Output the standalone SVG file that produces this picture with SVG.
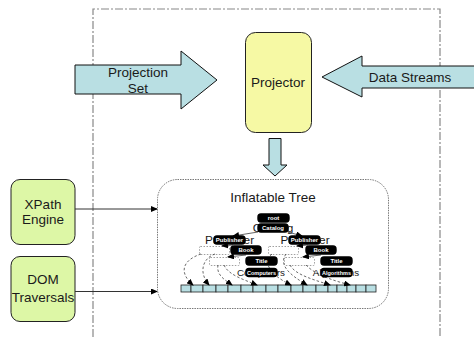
<svg xmlns="http://www.w3.org/2000/svg" width="474" height="337" viewBox="0 0 474 337">
<style>
text{font-family:"Liberation Sans",Arial,sans-serif;fill:#1a1a1a;text-anchor:middle}
.t{font-size:13.5px}
.blue{fill:#b9dfe3;stroke:#111;stroke-width:1}
.green{fill:#ddf7a6;stroke:#222;stroke-width:1}
.lab{fill:#000;stroke:#000;stroke-width:1.4}
.w{font-size:6px;font-weight:bold;fill:#fff}
.dr{fill:#fff;stroke:#888;stroke-width:.8;stroke-dasharray:1.500 1.500}
.c{fill:none;stroke:#222;stroke-width:.7}
.d{fill:none;stroke:#444;stroke-width:.8;stroke-dasharray:2.500 2}
.cell{fill:#b9dfe3;stroke:#222;stroke-width:.8}
</style>
<defs>
<marker id="a" markerWidth="7" markerHeight="6" refX="6" refY="3" orient="auto" markerUnits="userSpaceOnUse"><path d="M0,0L7,3L0,6Z" fill="#000"/></marker>
</defs>
<rect width="474" height="337" fill="#fff"/>
<path d="M93,337V9H440V337" fill="none" stroke="#888" stroke-width="1.200" stroke-dasharray="8 2 2 2"/>
<g id="projection-set"><path class="blue" d="M75,65H181V51L217,80L181,109V94H75Z"/><text class="t" x="138" y="77">Projection</text><text class="t" x="138" y="93">Set</text></g>
<g id="data-streams"><path class="blue" d="M474,66H362V56L322,77L362,97V88H474"/><text class="t" x="410" y="82">Data Streams</text></g>
<g id="projector"><rect x="245.500" y="32.500" width="66" height="100" rx="10" fill="#f6f9a4" stroke="#222"/><text class="t" x="278" y="87">Projector</text></g>
<g id="down-arrow"><path class="blue" d="M269,138.500H281V165H287L275,176L263,165H269Z"/></g>
<g id="xpath-engine"><rect class="green" x="11" y="179.500" width="64" height="65" rx="9"/><text class="t" x="43" y="209">XPath</text><text class="t" x="43" y="224">Engine</text></g>
<g id="dom-traversals"><rect class="green" x="11" y="256.500" width="64" height="65" rx="9"/><text class="t" x="43" y="284">DOM</text><text class="t" x="43" y="302">Traversals</text></g>
<g id="connectors">
<path d="M75,209H157" fill="none" stroke="#333" marker-end="url(#a)"/>
<path d="M75,291.500H157" fill="none" stroke="#333" marker-end="url(#a)"/>
</g>
<g id="inflatable-tree">
<rect x="157.500" y="179.500" width="231" height="129" rx="20" fill="#fff" stroke="#555" stroke-width=".8" stroke-dasharray="1.500 1"/>
<text class="t" x="273" y="202">Inflatable Tree</text>
<g id="array"><rect class="cell" x="181" y="285" width="10" height="7"/><rect class="cell" x="191" y="285" width="12" height="7"/><rect class="cell" x="203" y="285" width="13" height="7"/><rect class="cell" x="216" y="285" width="12" height="7"/><rect class="cell" x="228" y="285" width="13" height="7"/><rect class="cell" x="241" y="285" width="12" height="7"/><rect class="cell" x="253" y="285" width="13" height="7"/><rect class="cell" x="266" y="285" width="12" height="7"/><rect class="cell" x="278" y="285" width="13" height="7"/><rect class="cell" x="291" y="285" width="12" height="7"/><rect class="cell" x="303" y="285" width="13" height="7"/><rect class="cell" x="316" y="285" width="12" height="7"/><rect class="cell" x="328" y="285" width="9" height="7"/><rect class="cell" x="337" y="285" width="10" height="7"/><rect class="cell" x="347" y="285" width="9" height="7"/><rect class="cell" x="356" y="285" width="10" height="7"/><rect class="cell" x="366" y="285" width="10" height="7"/></g>
<rect class="dr" x="199.500" y="246.500" width="30" height="8" rx="1"/><rect class="dr" x="209.500" y="257.500" width="30" height="8" rx="1"/><rect class="dr" x="268.500" y="246.500" width="30" height="8" rx="1"/><rect class="dr" x="284.500" y="257.500" width="30" height="8" rx="1"/>
<g id="tree-links">
<path class="c" d="M258,232L233,236" marker-end="url(#a)"/><path class="c" d="M288,232L302,236" marker-end="url(#a)"/>
<path class="c" d="M233,245L222,246" marker-end="url(#a)"/><path class="c" d="M308,245L297,246" marker-end="url(#a)"/>
<path class="c" d="M246,255L228,257" marker-end="url(#a)"/><path class="c" d="M321,255L303,257" marker-end="url(#a)"/>
<path class="d" d="M201,254C183,260 178,272 193,285" marker-end="url(#a)"/>
<path class="d" d="M215,254C203,258 198,272 209,285" marker-end="url(#a)"/>
<path class="d" d="M218,265C216,275 225,280 232,285" marker-end="url(#a)"/>
<path class="d" d="M224,265C228,275 245,280 257,285" marker-end="url(#a)"/>
<path class="d" d="M272,254C262,262 270,275 291,285" marker-end="url(#a)"/>
<path class="d" d="M286,254C278,265 290,275 307,285" marker-end="url(#a)"/>
<path class="d" d="M290,265C295,275 315,280 330,285" marker-end="url(#a)"/>
<path class="d" d="M306,265C315,275 335,281 350,285" marker-end="url(#a)"/>
</g>
<text x="273" y="232" font-size="11.800">Catalog</text>
<text x="229.500" y="244" font-size="11.800">Publisher</text><text x="305" y="244" font-size="11.800">Publisher</text>
<text x="261" y="276" font-size="9.800">Computers</text><text x="336" y="276" font-size="9.800">Algorithms</text>
<g id="labels">
<rect class="lab" x="258" y="214" width="31" height="8" rx="3"/><text class="w" x="273.500" y="220">root</text>
<rect class="lab" x="258" y="224" width="30" height="8" rx="3"/><text class="w" x="273" y="230">Catalog</text>
<rect class="lab" x="214" y="236" width="31" height="8" rx="3"/><text class="w" x="229.500" y="242">Publisher</text>
<rect class="lab" x="289" y="236" width="31" height="8" rx="3"/><text class="w" x="304.500" y="242">Publisher</text>
<rect class="lab" x="231" y="246" width="30" height="8" rx="3"/><text class="w" x="246" y="252">Book</text>
<rect class="lab" x="306" y="246" width="30" height="8" rx="3"/><text class="w" x="321" y="252">Book</text>
<rect class="lab" x="246" y="257" width="31" height="8" rx="3"/><text class="w" x="261.500" y="263">Title</text>
<rect class="lab" x="321" y="257" width="31" height="8" rx="3"/><text class="w" x="336.500" y="263">Title</text>
<rect class="lab" x="246" y="268.500" width="31" height="8" rx="3"/><text class="w" x="261.500" y="274.500" font-size="5.500" style="font-size:5.500px">Computers</text>
<rect class="lab" x="321" y="268.500" width="31" height="8" rx="3"/><text class="w" x="336.500" y="274.500" style="font-size:5.500px">Algorithms</text>
</g>
</g>
</svg>
